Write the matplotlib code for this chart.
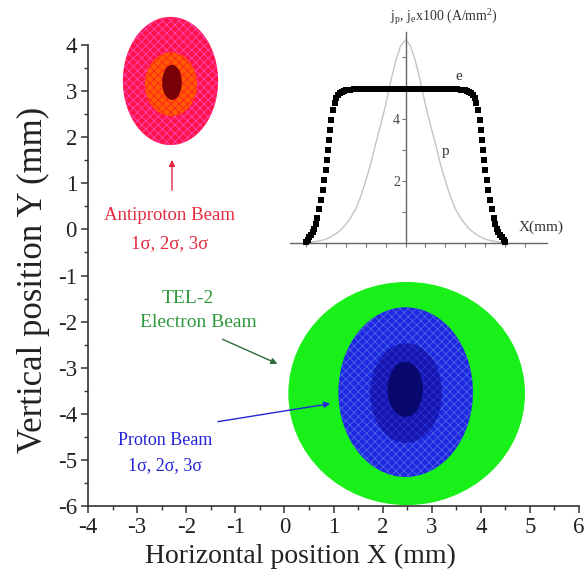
import matplotlib
matplotlib.use("Agg")
import matplotlib.pyplot as plt
from matplotlib.patches import Ellipse
from matplotlib.ticker import MultipleLocator, FixedLocator

plt.rcParams['font.family'] = ['Liberation Serif', 'DejaVu Serif']
plt.rcParams['mathtext.default'] = 'regular'
plt.rcParams['hatch.linewidth'] = 0.6
plt.rcParams['axes.unicode_minus'] = False

# ---------------- data (mm) ----------------
# Antiproton beam ellipses (3 sigma, 2 sigma, 1 sigma)
pbar_cx = [-2.32, -2.31, -2.29]
pbar_cy = [3.22, 3.15, 3.19]
pbar_hw = [0.97, 0.53, 0.20]
pbar_hh = [1.39, 0.69, 0.38]
pbar_face = ['#FF1448', '#FF5A00', '#7A0008']
pbar_hatch = ['#FF44BB', '#FF2020', '#7A0008']

# Electron beam (TEL-2)
e_cx, e_cy, e_hw, e_hh = 2.49, -3.56, 2.41, 2.42

# Proton beam ellipses (3 sigma, 2 sigma, 1 sigma)
p_cx = [2.47, 2.48, 2.46]
p_cy = [-3.53, -3.55, -3.47]
p_hw = [1.37, 0.73, 0.36]
p_hh = [1.84, 1.08, 0.60]
p_face = ['#1E28E0', '#1616AE', '#08086E']
p_hatch = ['#4C66E6', '#2A30D4', '#08086E']

# Inset profiles: X (mm) vs current density
e_x = [-2.50, -2.46, -2.42, -2.38, -2.33, -2.29, -2.25, -2.21, -2.17, -2.13,
       -2.08, -2.04, -2.00, -1.97, -1.94, -1.92, -1.89, -1.86, -1.82, -1.78,
       -1.74, -1.70, -1.65, -1.60, -1.55, -1.50,
       -1.40, -1.30, -1.20, -1.10, -1.00, -0.90, -0.80, -0.70, -0.60, -0.50,
       -0.40, -0.30, -0.20, -0.10, 0.00, 0.10, 0.20, 0.30, 0.40, 0.50,
       0.60, 0.70, 0.80, 0.90, 1.00, 1.10, 1.20, 1.30, 1.40,
       1.50, 1.55, 1.60, 1.65, 1.70, 1.74, 1.78, 1.82, 1.86, 1.89,
       1.92, 1.94, 1.97, 2.00, 2.04, 2.08, 2.13, 2.17, 2.21, 2.25,
       2.29, 2.33, 2.38, 2.42, 2.46, 2.50]
e_j = [0.03, 0.10, 0.18, 0.26, 0.34, 0.44, 0.60, 0.82, 1.10, 1.40,
       1.72, 2.04, 2.36, 2.68, 3.00, 3.32, 3.64, 3.96, 4.28, 4.50,
       4.66, 4.76, 4.84, 4.88, 4.91, 4.93,
       4.94, 4.95, 4.95, 4.95, 4.95, 4.95, 4.95, 4.95, 4.95, 4.95,
       4.95, 4.95, 4.95, 4.95, 4.95, 4.95, 4.95, 4.95, 4.95, 4.95,
       4.95, 4.95, 4.95, 4.95, 4.95, 4.95, 4.95, 4.95, 4.94,
       4.93, 4.91, 4.88, 4.84, 4.76, 4.66, 4.50, 4.28, 3.96, 3.64,
       3.32, 3.00, 2.68, 2.36, 2.04, 1.72, 1.40, 1.10, 0.82, 0.60,
       0.44, 0.34, 0.26, 0.18, 0.10, 0.03]

p_x = [-2.5, -2.375, -2.25, -2.125, -2.0, -1.875, -1.75, -1.625, -1.5, -1.375,
       -1.25, -1.125, -1.0, -0.875, -0.75, -0.625, -0.5, -0.375, -0.25, -0.125,
       0.0, 0.125, 0.25, 0.375, 0.5, 0.625, 0.75, 0.875, 1.0, 1.125,
       1.25, 1.375, 1.5, 1.625, 1.75, 1.875, 2.0, 2.125, 2.25, 2.375, 2.5]
p_j = [0.02, 0.03, 0.05, 0.08, 0.12, 0.20, 0.30, 0.42, 0.60, 0.82,
       1.10, 1.50, 2.00, 2.55, 3.20, 3.80, 4.45, 5.20, 5.85, 6.35,
       6.55, 6.35, 5.85, 5.20, 4.45, 3.80, 3.20, 2.55, 2.00, 1.50,
       1.10, 0.82, 0.60, 0.42, 0.30, 0.20, 0.12, 0.08, 0.05, 0.03, 0.02]

x_ticks = [-4, -3, -2, -1, 0, 1, 2, 3, 4, 5, 6]
y_ticks = [-6, -5, -4, -3, -2, -1, 0, 1, 2, 3, 4]

# ---------------- figure ----------------
fig = plt.figure(figsize=(5.87, 5.76), dpi=100)
ax = fig.add_axes([88/587, 1-506/576, 491/587, 461/576])
ax.set_xlim(-4, 6)
ax.set_ylim(-6, 4)
for s in ['top', 'right']:
    ax.spines[s].set_visible(False)
for s in ['left', 'bottom']:
    ax.spines[s].set_color('#333333')
    ax.spines[s].set_linewidth(1.2)
ax.set_xticks(x_ticks)
ax.set_yticks(y_ticks)
ax.xaxis.set_minor_locator(MultipleLocator(0.5))
ax.yaxis.set_minor_locator(MultipleLocator(0.5))
ax.tick_params(which='major', direction='out', length=5, width=1.1,
               color='#333333', labelsize=16.5, labelcolor='#222222', pad=3)
ax.tick_params(which='minor', direction='out', length=3, width=1.0,
               color='#333333')

ax.set_xlabel('Horizontal position X (mm)', fontsize=20, color='#222222')
ax.xaxis.set_label_coords(0.432, -0.11)
ax.xaxis.label.set_va('center')
ax.set_ylabel('Vertical position Y (mm)', fontsize=25, color='#222222')
ax.yaxis.set_label_coords(-0.112, 0.49)
ax.yaxis.label.set_va('center')

# electron beam
ax.add_patch(Ellipse((e_cx, e_cy), 2*e_hw, 2*e_hh, facecolor='#19F019',
                     edgecolor='none', lw=0, zorder=2, clip_on=False))
# proton beam
for i in range(3):
    ax.add_patch(Ellipse((p_cx[i], p_cy[i]), 2*p_hw[i], 2*p_hh[i],
                         facecolor=p_face[i], edgecolor=p_hatch[i],
                         hatch='xxxx' if i < 2 else None, lw=0, zorder=3+i,
                         clip_on=False))
# antiproton beam
for i in range(3):
    ax.add_patch(Ellipse((pbar_cx[i], pbar_cy[i]), 2*pbar_hw[i], 2*pbar_hh[i],
                         facecolor=pbar_face[i], edgecolor=pbar_hatch[i],
                         hatch='xxxx' if i < 2 else None, lw=0, zorder=3+i,
                         clip_on=False))

# annotations
red = '#E62A40'
ax.annotate('', xy=(-2.29, 1.57), xytext=(-2.29, 0.79),
            arrowprops=dict(arrowstyle='-|>', color=red, lw=1.0,
                            mutation_scale=9))
ax.text(-2.33, 0.31, 'Antiproton Beam', color=red, fontsize=13.5,
        ha='center', va='center')
ax.text(-2.33, -0.30, '1σ, 2σ, 3σ', color=red, fontsize=13.5,
        ha='center', va='center')

green = '#2E9A3C'
ax.text(-1.96, -1.49, 'TEL-2', color=green, fontsize=14, ha='center', va='center')
ax.text(-1.76, -2.03, 'Electron Beam', color=green, fontsize=14,
        ha='center', va='center')
ax.annotate('', xy=(-0.09, -2.94), xytext=(-1.31, -2.36),
            arrowprops=dict(arrowstyle='-|>', color='#2D6B3A', lw=1.0,
                            mutation_scale=9))

blue = '#2424D8'
ax.annotate('', xy=(0.99, -3.77), xytext=(-1.41, -4.18),
            arrowprops=dict(arrowstyle='-|>', color=blue, lw=1.0,
                            mutation_scale=9))
ax.text(-2.43, -4.57, 'Proton Beam', color=blue, fontsize=13,
        ha='center', va='center')
ax.text(-2.43, -5.13, '1σ, 2σ, 3σ', color=blue, fontsize=13,
        ha='center', va='center')

# ---------------- inset ----------------
ax2 = fig.add_axes([290/587, 1-243/576, 257/587, 211/576])
ax2.patch.set_alpha(0)
ax2.set_xlim(-2.9, 3.55)
ax2.set_ylim(0, 6.8)
for s in ['top', 'right']:
    ax2.spines[s].set_visible(False)
ax2.spines['left'].set_position(('data', 0))
for s in ['left', 'bottom']:
    ax2.spines[s].set_color('#666666')
    ax2.spines[s].set_linewidth(1.0)
ax2.xaxis.set_major_locator(FixedLocator([-2.5, -2.0, -1.5, -1.0, -0.5, 0.0,
                                          0.5, 1.0, 1.5, 2.0, 2.5, 3.0]))
ax2.set_xticklabels([])
ax2.set_yticks([1, 2, 3, 4, 5, 6])
ax2.set_yticklabels(['', '2', '', '4', '', ''])
ax2.tick_params(direction='out', length=3, width=0.8, color='#777777',
                labelsize=10, labelcolor='#444444', pad=1)

ax2.plot(p_x, p_j, color='#C4C4C4', lw=1.0, zorder=2)
ax2.plot(e_x, e_j, 's', ms=3.8, color='black', mec='black', mew=0, zorder=3,
         clip_on=False)

ax2.text(1.33, 5.16, 'e', fontsize=11, color='#333333', ha='center', va='bottom')
ax2.text(1.0, 2.94, 'p', fontsize=11, color='#333333', ha='center', va='center')
ax2.text(3.4, 0.5, 'X(mm)', fontsize=11, color='#333333', ha='center', va='center')
fig.text(444/587, 1-17/576, 'j$_p$, j$_e$x100 (A/mm$^2$)', fontsize=10,
         color='#333333', ha='center', va='center')

fig.savefig('out.png', dpi=100)
